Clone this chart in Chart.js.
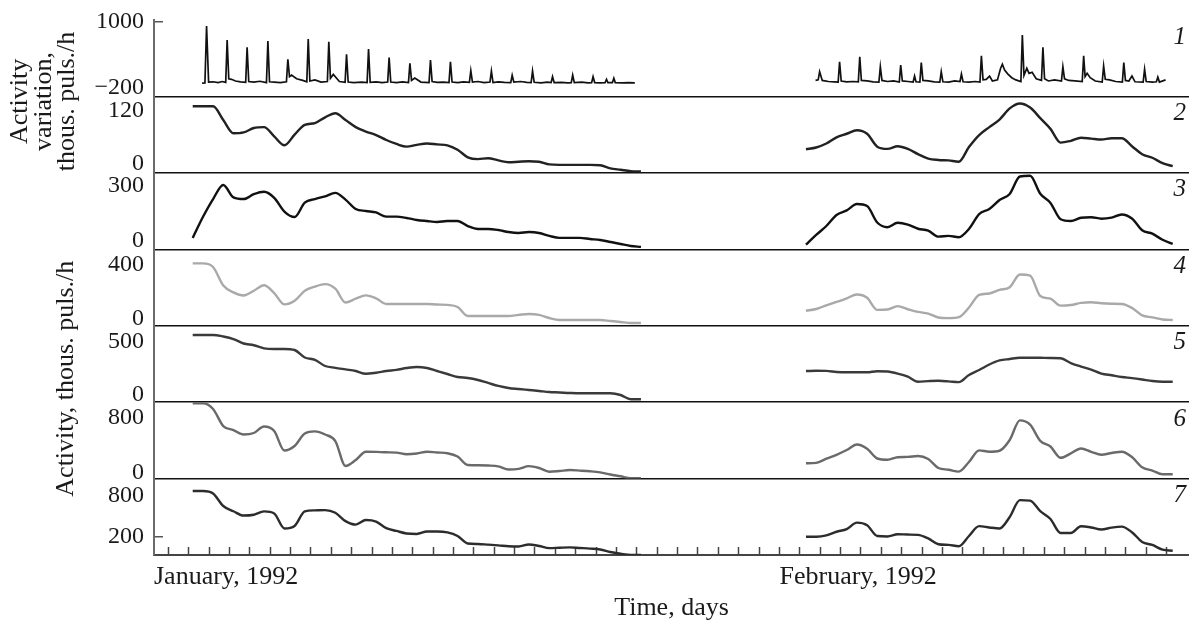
<!DOCTYPE html>
<html>
<head>
<meta charset="utf-8">
<script src="https://cdn.jsdelivr.net/npm/chart.js@4.4.1/dist/chart.umd.min.js"></script>
<style>
  html, body { margin: 0; padding: 0; background: #fff; }
  #wrap { width: 1189px; height: 621px; }
</style>
</head>
<body>
<div id="wrap"><canvas id="activityChart"></canvas></div>
<script>
// --- Time axis (days from Jan 1, 1992) ---
const X_MIN = 0.3;
const X_MAX = 51.1;
const MONTH_TICKS = [0.3, 31];
const MONTH_LABELS = ["January, 1992", "February, 1992"];

// sampling days for the smoothed curves (panels 2-7)
const JAN_DAYS = [2.2, 2.7, 3.2, 3.7, 4.2, 4.7, 5.2, 5.7, 6.2, 6.7, 7.2, 7.7, 8.2, 8.7, 9.2,
  9.7, 10.2, 10.7, 11.2, 11.7, 12.2, 12.7, 13.2, 13.7, 14.2, 14.7, 15.2, 15.7, 16.2, 16.7,
  17.2, 17.7, 18.2, 18.7, 19.2, 19.7, 20.2, 20.7, 21.2, 21.7, 22.2, 22.7, 23.2, 23.7, 24.2];
const FEB_DAYS = [32.3, 32.8, 33.3, 33.8, 34.3, 34.8, 35.3, 35.8, 36.3, 36.8, 37.3, 37.8, 38.3,
  38.8, 39.3, 39.8, 40.3, 40.8, 41.3, 41.8, 42.3, 42.8, 43.3, 43.8, 44.3, 44.8, 45.3, 45.8,
  46.3, 46.8, 47.3, 47.8, 48.3, 48.8, 49.3, 49.8, 50.3];

// --- Panel 1: activity variation (spiky, own sampling) ---
const P1_JAN_DAYS = [2.66, 2.8, 2.88, 2.98, 3.2, 3.45, 3.65, 3.82, 3.89, 3.97, 4.1, 4.3, 4.55, 4.8, 4.87,
  4.95, 5.2, 5.5, 5.82, 5.89, 5.97, 6.2, 6.5, 6.8, 6.87, 6.95, 7.05, 7.3, 7.6, 7.8, 7.87, 7.95,
  8.2, 8.5, 8.81, 8.88, 8.96, 9.1, 9.4, 9.68, 9.75, 9.83, 10.1, 10.5, 10.76, 10.83, 10.91, 11.2,
  11.5, 11.77, 11.84, 11.92, 12.2, 12.5, 12.79, 12.86, 12.94, 13.1, 13.4, 13.8, 13.87, 13.95,
  14.2, 14.5, 14.78, 14.85, 14.93, 15.2, 15.5, 15.78, 15.85, 15.93, 16.2, 16.5, 16.79, 16.86,
  16.94, 17.2, 17.5, 17.81, 17.88, 17.96, 18.3, 18.6, 18.81, 18.88, 18.96, 19.3, 19.6, 19.79,
  19.86, 19.94, 20.3, 20.6, 20.78, 20.85, 20.93, 21.3, 21.6, 21.78, 21.85, 21.93, 22.2, 22.44,
  22.51, 22.58, 22.8, 22.87, 22.94, 23.3, 23.6, 23.9];
const P1_JAN = [-120, -115, 930, -100, -95, -110, -90, -105, 673, -40, -50, -80, -95, -105, 539,
  -90, -100, -85, -110, 655, -95, -100, -110, -95, 318, 0, 30, -40, -70, -95, 691, -80,
  -60, -100, -90, 642, -30, 40, -90, -105, 410, -100, -110, -100, -110, 508, -105, -95,
  -110, -100, 348, -100, -110, -95, -110, 245, -70, -25, -100, -110, 305, -90,
  -105, -100, -110, 274, -100, -110, -95, -105, 109, -100, -90, -110, -100, 103,
  -110, -95, -105, -110, 24, -100, -90, -105, -110, 103, -105, -115, -100, -110,
  -2, -110, -105, -115, -110, 30, -110, -100, -115, -110, -2, -110, -115, -110,
  -49, -110, -110, -31, -110, -115, -110, -115];
const P1_FEB_DAYS = [32.77, 32.9, 32.97, 33.1, 33.4, 33.7, 33.88, 33.95, 34.03, 34.3, 34.6, 34.87,
  34.94, 35.02, 35.3, 35.6, 35.88, 35.95, 36.03, 36.3, 36.6, 36.88, 36.95, 37.03, 37.3, 37.56,
  37.63, 37.7, 37.89, 37.96, 38.04, 38.3, 38.6, 38.87, 38.94, 39.02, 39.3, 39.6, 39.86, 39.93,
  40.01, 40.3, 40.6, 40.84, 40.91, 40.99, 41.15, 41.31, 41.45, 41.7, 41.85, 41.94, 42.05, 42.2,
  42.4, 42.6, 42.85, 42.92, 43.0, 43.14, 43.25, 43.4, 43.6, 43.86, 43.93, 44.01, 44.2, 44.5,
  44.84, 44.91, 44.99, 45.2, 45.5, 45.86, 45.93, 46.0, 46.1, 46.25, 46.5, 46.84, 46.91, 46.99,
  47.2, 47.5, 47.83, 47.9, 47.98, 48.15, 48.3, 48.45, 48.85, 48.92, 49.0, 49.3, 49.5, 49.57,
  49.65, 49.95];
const P1_FEB = [-70, -60, 90, -70, -90, -95, -100, 274, -80, -95, -90, -95,
  366, -70, -80, -95, -100, 182, -70, -90, -80, -100, 213, -80, -90, -100,
  11, -95, -100, 256, -70, -80, -95, -100, 90, -95, -100, -80, -90, 48,
  -95, -100, -90, -100, 384, -60, -50, 10, -80, -60, 150, 226, 120, 50,
  -20, -60, -90, 765, 20, 153, 60, 80, -40, -70, 539, -40, -80, -60,
  -80, 182, -40, -70, -80, -90, 384, 0, 60, -20, -80, -100, 195, -50,
  -60, -90, -100, 256, -70, -80, 10, -95, -100, 134, -90, -100, -95, -10,
  -100, -60];

// --- Panels 2-7: activity, thous. puls./h ---
const P2_JAN = [130, 130, 130, 99, 69, 71, 81, 83, 62, 42, 66, 88, 92, 105, 114, 99, 83, 73, 65, 54,
  45, 39, 43, 46, 44, 42, 32, 15, 11, 13, 8, 4, 5, 6, 5, -1, -2, -2, -2, -2, -3, -10, -13, -16, -17];
const P2_FEB = [33, 37, 46, 60, 68, 76, 68, 39, 34, 40, 34, 22, 12, 9, 8, 5, 38, 65, 83, 100, 125,
  136, 127, 103, 79, 48, 52, 59, 57, 55, 58, 58, 40, 22, 14, 2, -5];

const P3_JAN = [15, 129, 227, 304, 236, 227, 254, 267, 234, 159, 129, 208, 227, 242, 261, 224, 173,
  162, 154, 131, 131, 124, 113, 107, 102, 107, 107, 80, 64, 64, 58, 47, 42, 47, 42, 26, 15, 15,
  15, 9, 4, -7, -18, -29, -34];
const P3_FEB = [-22, 31, 80, 140, 165, 200, 189, 99, 73, 98, 88, 65, 55, 22, 26, 19, 64, 145, 173,
  222, 255, 350, 354, 256, 206, 117, 107, 125, 128, 120, 126, 143, 121, 57, 38, 5, -18];

const P4_JAN = [407, 407, 380, 243, 192, 169, 204, 245, 187, 103, 130, 204, 235, 253, 219, 117, 145,
  170, 148, 106, 106, 106, 106, 106, 102, 99, 84, 17, 17, 17, 17, 17, 25, 32, 25, 2, -13, -13,
  -13, -13, -13, -20, -27, -35, -35];
const P4_FEB = [56, 69, 96, 121, 148, 176, 152, 62, 65, 90, 67, 47, 35, 6, 1, 8, 80, 173, 184, 210,
  230, 324, 316, 165, 145, 94, 98, 114, 119, 111, 108, 106, 77, 22, 7, -9, -13];

const P5_JAN = [563, 563, 563, 549, 525, 483, 467, 438, 432, 432, 422, 352, 330, 272, 255, 240, 225,
  199, 209, 225, 236, 253, 263, 253, 225, 197, 169, 160, 141, 113, 85, 66, 56, 47, 38, 28, 24,
  19, 16, 16, 16, 16, 0, -40, -40];
const P5_FEB = [225, 227, 226, 216, 213, 213, 213, 223, 220, 201, 172, 125, 130, 133, 128, 121, 188,
  235, 286, 324, 338, 350, 350, 349, 347, 345, 300, 267, 239, 201, 185, 169, 158, 145, 131, 125, 125];

const P6_JAN = [1007, 1007, 924, 676, 618, 553, 575, 669, 604, 320, 386, 567, 599, 553, 458, 95, 182,
  303, 300, 294, 290, 266, 276, 303, 291, 281, 233, 109, 106, 102, 90, 44, 54, 93, 66, 12, 22,
  36, 28, 18, 2, -29, -55, -84, -84];
const P6_FEB = [134, 140, 201, 258, 327, 407, 346, 204, 186, 223, 228, 240, 196, 66, 41, 13, 153, 322,
  303, 317, 473, 759, 698, 461, 378, 214, 278, 349, 301, 259, 284, 303, 226, 76, 29, -26, -26];

const P7_JAN = [863, 863, 826, 643, 566, 503, 515, 564, 534, 314, 351, 563, 579, 583, 544, 421, 370,
  437, 415, 319, 278, 241, 234, 270, 270, 256, 204, 95, 87, 77, 67, 55, 51, 80, 58, 26, 32, 38,
  29, 20, 7, -30, -55, -74, -74];
const P7_FEB = [194, 194, 213, 266, 305, 399, 360, 204, 197, 229, 225, 221, 168, 84, 74, 55, 204, 349,
  329, 314, 482, 728, 722, 567, 453, 247, 247, 346, 329, 298, 327, 341, 259, 117, 73, 5, -11];

// --- Panel axes ---
const PANEL_IDS = ["y1", "y2", "y3", "y4", "y5", "y6", "y7"];
const PANEL_NUMBERS = ["1", "2", "3", "4", "5", "6", "7"];
const PANEL_MIN = [-364, -20, -47, -55, -67, -88, -74];
const PANEL_MAX = [1040, 152, 370, 511, 650, 1024, 1044];
const PANEL_TICKS = [[-200, 1000], [0, 120], [0, 300], [0, 400], [0, 500], [0, 800], [200, 800]];
const MARKED_TICKS = [[1000], [], [], [], [], [], [200]];
const LINE_COLORS = ["#111111", "#222222", "#111111", "#a9a9a9", "#3a3a3a", "#6a6a6a", "#2c2c2c"];

const SERIES = [
  [[P1_JAN_DAYS, P1_JAN], [P1_FEB_DAYS, P1_FEB]],
  [[JAN_DAYS, P2_JAN], [FEB_DAYS, P2_FEB]],
  [[JAN_DAYS, P3_JAN], [FEB_DAYS, P3_FEB]],
  [[JAN_DAYS, P4_JAN], [FEB_DAYS, P4_FEB]],
  [[JAN_DAYS, P5_JAN], [FEB_DAYS, P5_FEB]],
  [[JAN_DAYS, P6_JAN], [FEB_DAYS, P6_FEB]],
  [[JAN_DAYS, P7_JAN], [FEB_DAYS, P7_FEB]]
];

const SERIF = "'Liberation Serif', 'Times New Roman', serif";
const TEXT_COLOR = "#1a1a1a";
const NONE = "rgba(0,0,0,0)";

function toPoints(days, vals) {
  return days.map((d, i) => ({ x: d, y: vals[i] }));
}

function fmtTick(v) {
  return String(v).replace("-", "\u2212");
}

const datasets = [];
SERIES.forEach((segments, p) => {
  segments.forEach(([days, vals]) => {
    datasets.push({
      data: toPoints(days, vals),
      yAxisID: PANEL_IDS[p],
      borderColor: LINE_COLORS[p],
      borderWidth: p === 0 ? 1.7 : 2.4,
      pointRadius: 0,
      fill: false,
      tension: p === 0 ? 0 : 0.4,
      cubicInterpolationMode: p === 0 ? "default" : "monotone"
    });
  });
});

const dayTicks = [X_MIN];
for (let d = 1; d <= 50; d++) dayTicks.push(d);

const scales = {
  x: {
    type: "linear",
    position: "bottom",
    min: X_MIN,
    max: X_MAX,
    afterBuildTicks: s => { s.ticks = dayTicks.map(v => ({ value: v })); },
    afterFit: s => { s.height = 66; s.paddingLeft = 0; s.paddingRight = 0; },
    ticks: {
      autoSkip: false,
      maxRotation: 0,
      align: "start",
      padding: 15,
      color: TEXT_COLOR,
      font: { family: SERIF, size: 26 },
      callback: v => {
        const k = MONTH_TICKS.indexOf(v);
        return k >= 0 ? MONTH_LABELS[k] : "";
      }
    },
    grid: {
      drawOnChartArea: false,
      drawTicks: true,
      tickLength: -8,
      tickWidth: 1.5,
      tickColor: c => (c.tick && c.tick.value >= 1 ? "#444" : NONE)
    },
    border: { display: true, color: "#444", width: 2 },
    title: {
      display: true,
      text: "Time, days",
      color: TEXT_COLOR,
      font: { family: SERIF, size: 26, lineHeight: 1 },
      padding: 0
    }
  }
};

PANEL_IDS.forEach((id, i) => {
  const [lo, hi] = PANEL_TICKS[i];
  scales[id] = {
    type: "linear",
    position: "left",
    stack: "panels",
    stackWeight: 1,
    weight: PANEL_IDS.length - i,
    min: PANEL_MIN[i],
    max: PANEL_MAX[i],
    afterBuildTicks: s => {
      s.ticks = [{ value: PANEL_MIN[i] }, { value: lo }, { value: hi }];
    },
    afterFit: s => { s.width = 154; s.paddingTop = 0; s.paddingBottom = 0; },
    ticks: {
      autoSkip: false,
      padding: 19,
      color: TEXT_COLOR,
      font: { family: SERIF, size: 24 },
      callback: v => (v === lo || v === hi ? fmtTick(v) : "")
    },
    grid: {
      drawOnChartArea: true,
      drawTicks: true,
      tickLength: -9,
      lineWidth: 1.5,
      tickWidth: 1.5,
      color: c => (c.tick && c.tick.value === PANEL_MIN[i] && i < PANEL_IDS.length - 1 ? "#111" : NONE),
      tickColor: c => (c.tick && MARKED_TICKS[i].includes(c.tick.value) ? "#555" : NONE)
    },
    border: { display: true, color: "#6b6b6b", width: 2 }
  };
});

// axis titles and panel numbers
const panelText = {
  id: "panelText",
  afterDraw(chart) {
    const { ctx, chartArea } = chart;
    ctx.save();
    ctx.fillStyle = TEXT_COLOR;
    ctx.textBaseline = "middle";

    ctx.font = "italic 25px " + SERIF;
    ctx.textAlign = "right";
    PANEL_IDS.forEach((id, i) => {
      ctx.fillText(PANEL_NUMBERS[i], chartArea.right - 3, chart.scales[id].top + 17);
    });

    ctx.font = "26px " + SERIF;
    ctx.textAlign = "center";
    const topY = chart.scales.y1.bottom + 5;
    [["Activity", 20], ["variation,", 44], ["thous. puls./h", 67]].forEach(([t, x]) => {
      ctx.save();
      ctx.translate(x, topY);
      ctx.rotate(-Math.PI / 2);
      ctx.fillText(t, 0, 0);
      ctx.restore();
    });
    ctx.save();
    ctx.translate(66, chart.scales.y5.top + 53);
    ctx.rotate(-Math.PI / 2);
    ctx.fillText("Activity, thous. puls./h", 0, 0);
    ctx.restore();

    ctx.restore();
  }
};

new Chart(document.getElementById("activityChart"), {
  type: "line",
  data: { datasets },
  options: {
    responsive: true,
    maintainAspectRatio: false,
    animation: false,
    layout: { padding: { top: 20, left: 0, right: 0, bottom: 0 } },
    plugins: { legend: { display: false }, tooltip: { enabled: false } },
    scales
  },
  plugins: [panelText]
});
</script>
</body>
</html>
